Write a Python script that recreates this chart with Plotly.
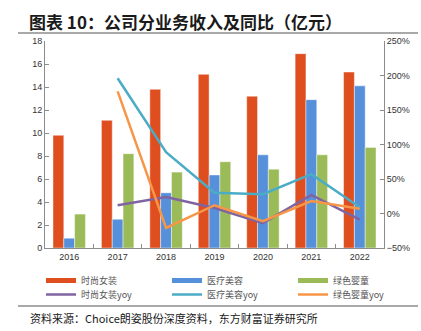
import plotly.graph_objects as go

# Revenue by segment (亿元) and year-on-year growth (%)
years = ["2016", "2017", "2018", "2019", "2020", "2021", "2022"]
fashion = [9.8, 11.1, 13.8, 15.1, 13.2, 16.9, 15.3]
medical = [0.85, 2.5, 4.8, 6.35, 8.1, 12.9, 14.1]
baby = [2.95, 8.2, 6.6, 7.5, 6.85, 8.1, 8.75]

yoy_years = years[1:]
fashion_yoy = [12, 24, 8, -14, 27, -9]
medical_yoy = [196, 89, 30, 28, 57, 9]
baby_yoy = [177, -21, 12, -11, 18, 7]

bar_names = ["时尚女装", "医疗美容", "绿色婴童"]
line_names = ["时尚女装yoy", "医疗美容yoy", "绿色婴童yoy"]

C_RED = "#DE4E1F"
C_BLUE = "#5690DA"
C_GREEN = "#9BBB59"
C_PURPLE = "#8064A2"
C_TEAL = "#4BACC6"
C_ORANGE = "#F79646"

FONT = "Noto Sans CJK SC"
AXIS_COLOR = "#8C8C8C"

W, H = 421, 331
ML, MR, MT, MB = 45, 37, 41, 83
PW, PH = W - ML - MR, H - MT - MB


def px_x(px):
    """pixel column -> paper x"""
    return (px - ML) / PW


def px_y(py):
    """pixel row (from top) -> paper y"""
    return (H - MB - py) / PH


# one legend box per entry: 3 columns x 2 rows
col_px = [41, 167, 293]
row_top_px = [266, 280]
bar_legends = ["legend", "legend2", "legend3"]
line_legends = ["legend4", "legend5", "legend6"]

fig = go.Figure()

for name, vals, col in zip(bar_names, [fashion, medical, baby], [C_RED, C_BLUE, C_GREEN]):
    fig.add_trace(go.Bar(
        x=years, y=vals, name=name,
        marker=dict(color=col, line=dict(color="rgba(255,255,255,0.55)", width=0.8)),
        showlegend=False, yaxis="y",
    ))

# flat swatches standing in for the bar series in the legend
for name, col, lg in zip(bar_names, [C_RED, C_BLUE, C_GREEN], bar_legends):
    fig.add_trace(go.Scatter(
        x=[None], y=[None], mode="lines", name=name,
        line=dict(color=col, width=5), yaxis="y", legend=lg,
    ))

for name, vals, col, lg in zip(line_names, [fashion_yoy, medical_yoy, baby_yoy],
                               [C_PURPLE, C_TEAL, C_ORANGE], line_legends):
    fig.add_trace(go.Scatter(
        x=yoy_years, y=vals, name=name, mode="lines",
        line=dict(color=col, width=2.5), yaxis="y2", legend=lg,
    ))

legend_style = dict(
    orientation="v", xanchor="left", yanchor="top",
    font=dict(family=FONT, size=9, color="#555555"),
    bgcolor="rgba(0,0,0,0)", itemclick=False,
)

legends = {}
for i, lg in enumerate(bar_legends):
    legends[lg] = dict(x=px_x(col_px[i]), y=px_y(row_top_px[0]), **legend_style)
for i, lg in enumerate(line_legends):
    legends[lg] = dict(x=px_x(col_px[i]), y=px_y(row_top_px[1]), **legend_style)

fig.update_layout(
    width=W, height=H,
    margin=dict(l=ML, r=MR, t=MT, b=MB, autoexpand=False),
    paper_bgcolor="white", plot_bgcolor="white",
    barmode="group", bargap=0.33, bargroupgap=0,
    font=dict(family=FONT, size=9, color="#333333"),
    xaxis=dict(
        type="category", showline=True, linecolor=AXIS_COLOR, linewidth=1,
        ticks="inside", tickson="boundaries", ticklen=4, tickcolor=AXIS_COLOR,
        showgrid=False, tickfont=dict(family="Liberation Sans", size=9, color="#333333"),
    ),
    yaxis=dict(
        range=[0, 18], dtick=2, showline=True, linecolor=AXIS_COLOR, linewidth=1,
        ticks="inside", ticklen=4, tickcolor=AXIS_COLOR, showgrid=False, zeroline=False,
        tickfont=dict(family="Liberation Sans", size=9, color="#333333"),
    ),
    yaxis2=dict(
        overlaying="y", side="right", range=[-50, 250], dtick=50, ticksuffix="%",
        showline=True, linecolor=AXIS_COLOR, linewidth=1,
        ticks="inside", ticklen=4, tickcolor=AXIS_COLOR, showgrid=False, zeroline=False,
        tickfont=dict(family="Liberation Sans", size=9, color="#333333"),
    ),
    showlegend=True,
    **legends,
)

# heading with rule beneath, source note with rule above
fig.add_annotation(
    text="<b>图表 10：公司分业务收入及同比（亿元）</b>", xref="paper", yref="paper",
    x=px_x(27), y=px_y(21), xanchor="left", yanchor="middle",
    showarrow=False, font=dict(family=FONT, size=17, color="#1a1a1a"),
)
fig.add_shape(type="line", xref="paper", yref="paper",
              x0=px_x(18), x1=px_x(418), y0=px_y(33), y1=px_y(33),
              line=dict(color="#555555", width=1.2))
fig.add_shape(type="line", xref="paper", yref="paper",
              x0=px_x(18), x1=px_x(418), y0=px_y(306), y1=px_y(306),
              line=dict(color="#555555", width=1.2))
fig.add_annotation(
    text="资料来源：Choice朗姿股份深度资料，东方财富证券研究所", xref="paper", yref="paper",
    x=px_x(28), y=px_y(318), xanchor="left", yanchor="middle",
    showarrow=False, font=dict(family=FONT, size=11, color="#1a1a1a"),
)

fig.write_html("out.html")
